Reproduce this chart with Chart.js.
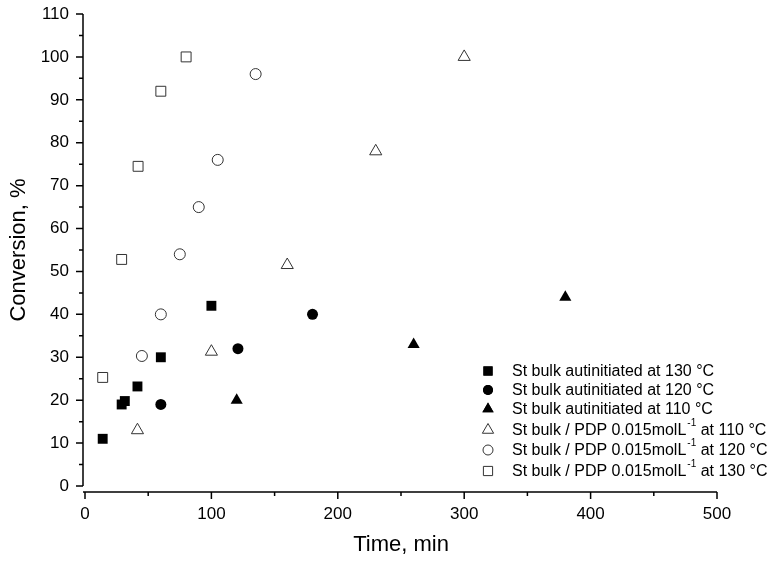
<!DOCTYPE html>
<html><head><meta charset="utf-8">
<script src="https://cdn.jsdelivr.net/npm/chart.js@4.4.1/dist/chart.umd.min.js"></script>
<style>html,body{margin:0;padding:0;background:#fff;overflow:hidden;}</style>
</head><body>
<canvas id="c" width="772" height="561"></canvas>
<script>
// ---- data ----
const auto130X = [14, 29, 31.5, 41.5, 60, 100];
const auto130Y = [11, 19, 19.8, 23.2, 30, 42];
const auto120X = [60, 121, 180];
const auto120Y = [19, 32, 40];
const auto110X = [120, 260, 380];
const auto110Y = [20, 33, 44];
const pdp110X = [41.5, 100, 160, 230, 300];
const pdp110Y = [13, 31.3, 51.5, 78, 100];
const pdp120X = [45, 60, 75, 90, 105, 135];
const pdp120Y = [30.3, 40, 54, 65, 76, 96];
const pdp130X = [14, 29, 42, 60, 80];
const pdp130Y = [25.3, 52.8, 74.5, 92, 100];

const seriesLabels = [
  'St bulk autinitiated at 130 °C',
  'St bulk autinitiated at 120 °C',
  'St bulk autinitiated at 110 °C',
  'St bulk / PDP 0.015molL|-1| at 110 °C',
  'St bulk / PDP 0.015molL|-1| at 120 °C',
  'St bulk / PDP 0.015molL|-1| at 130 °C'
];
const xTitle = 'Time, min';
const yTitle = 'Conversion, %';
const xMin = 0, xMax = 500, xStep = 100, xMinor = 50;
const yMin = 0, yMax = 110, yStep = 10, yMinor = 5;

function pts(xs, ys) { return xs.map((x, i) => ({x: x, y: ys[i]})); }

const FONT = "'Liberation Sans', Arial, sans-serif";

function ds(label, xs, ys, style, filled, radius) {
  return {
    label: label,
    data: pts(xs, ys),
    pointStyle: style,
    pointRadius: radius,
    pointHoverRadius: radius,
    backgroundColor: filled ? '#000' : '#fff',
    borderColor: filled ? '#000' : '#333',
    borderWidth: filled ? 0 : 1,
    showLine: false
  };
}

const datasets = [
  ds(seriesLabels[0], auto130X, auto130Y, 'rect', true, 7),
  ds(seriesLabels[1], auto120X, auto120Y, 'circle', true, 5.5),
  ds(seriesLabels[2], auto110X, auto110Y, 'triangle', true, 7),
  ds(seriesLabels[3], pdp110X, pdp110Y, 'triangle', false, 7),
  ds(seriesLabels[4], pdp120X, pdp120Y, 'circle', false, 5.5),
  ds(seriesLabels[5], pdp130X, pdp130Y, 'rect', false, 7)
];

const axesPlugin = {
  id: 'originAxes',
  afterDraw(chart) {
    const ctx = chart.ctx;
    const xs = chart.scales.x, ys = chart.scales.y;
    const a = chart.chartArea;
    const axX = a.left - 2;
    const axY = a.bottom + 6;
    ctx.save();
    ctx.strokeStyle = '#000';
    ctx.lineWidth = 1.5;
    ctx.beginPath();
    ctx.moveTo(axX, ys.getPixelForValue(yMax));
    ctx.lineTo(axX, ys.getPixelForValue(yMin));
    ctx.moveTo(axX, axY);
    ctx.lineTo(xs.getPixelForValue(xMax), axY);
    for (let v = yMin; v <= yMax + 1e-9; v += yMinor) {
      const p = ys.getPixelForValue(v);
      const len = (Math.round(v) % yStep === 0) ? 7 : 4;
      ctx.moveTo(axX, p); ctx.lineTo(axX - len, p);
    }
    for (let v = xMin; v <= xMax + 1e-9; v += xMinor) {
      const p = xs.getPixelForValue(v);
      const len = (Math.round(v) % xStep === 0) ? 7 : 4;
      ctx.moveTo(p, axY); ctx.lineTo(p, axY + len);
    }
    ctx.stroke();
    ctx.restore();
  }
};

const legendPlugin = {
  id: 'insetLegend',
  afterDraw(chart) {
    const ctx = chart.ctx;
    const rows = [371, 390, 409, 430, 450, 471];
    const mx = 488, tx = 512;
    ctx.save();
    chart.data.datasets.forEach((d, i) => {
      const y = rows[i];
      ctx.fillStyle = d.backgroundColor;
      ctx.strokeStyle = d.borderColor;
      ctx.lineWidth = d.borderWidth;
      Chart.helpers.drawPoint(ctx, {pointStyle: d.pointStyle, radius: d.pointRadius - 0.5, rotation: 0, borderWidth: d.borderWidth}, mx, y);
      if (!d.borderWidth) { ctx.fill(); }
      const parts = d.label.split('|');
      let x = tx;
      ctx.fillStyle = '#000';
      ctx.textBaseline = 'middle';
      ctx.textAlign = 'left';
      parts.forEach((p, k) => {
        if (k % 2 === 1) {
          ctx.font = '10px ' + FONT;
          ctx.fillText(p, x + 1, y - 7);
          x += ctx.measureText(p).width + 1;
        } else {
          ctx.font = '16px ' + FONT;
          ctx.fillText(p, x, y + 1);
          x += ctx.measureText(p).width;
        }
      });
    });
    ctx.restore();
  }
};

function noPad(s) { s.paddingTop = 0; s.paddingBottom = 0; s.paddingLeft = 0; s.paddingRight = 0; }

new Chart(document.getElementById('c'), {
  type: 'scatter',
  data: { datasets: datasets },
  options: {
    responsive: false,
    animation: false,
    devicePixelRatio: 1,
    layout: { padding: { top: 14, right: 55, left: 0, bottom: 0 } },
    plugins: { legend: { display: false }, tooltip: { enabled: false } },
    scales: {
      x: {
        type: 'linear', min: xMin, max: xMax,
        afterFit(s) { s.height = 75; noPad(s); },
        grid: { display: true, drawOnChartArea: false, drawTicks: false, color: 'rgba(0,0,0,0)' },
        border: { display: false },
        ticks: { stepSize: xStep, color: '#000', padding: 18, maxRotation: 0, font: { family: FONT, size: 17 } },
        title: { display: true, text: xTitle, color: '#000', padding: { top: 0, bottom: 3 }, font: { family: FONT, size: 22 } }
      },
      y: {
        type: 'linear', min: yMin, max: yMax,
        afterFit(s) { s.width = 85; noPad(s); },
        grid: { display: true, drawOnChartArea: false, drawTicks: false, color: 'rgba(0,0,0,0)' },
        border: { display: false },
        ticks: { stepSize: yStep, color: '#000', padding: 16, font: { family: FONT, size: 17 } },
        title: { display: true, text: yTitle, color: '#000', padding: { top: 6, bottom: 0 }, font: { family: FONT, size: 22 } }
      }
    }
  },
  plugins: [axesPlugin, legendPlugin]
});
</script>
</body></html>
